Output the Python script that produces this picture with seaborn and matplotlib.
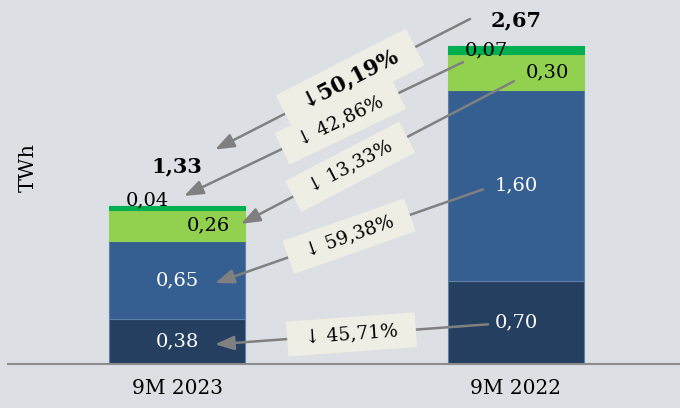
import matplotlib
matplotlib.use("Agg")
import matplotlib.pyplot as plt
import seaborn as sns
import numpy as np
import math

# ---------------- data ----------------
categories = ["9M 2023", "9M 2022"]
seg_navy = [0.38, 0.70]
seg_blue = [0.65, 1.60]
seg_lightgreen = [0.26, 0.30]
seg_green = [0.04, 0.07]
totals = [1.33, 2.67]

layers = [seg_navy, seg_blue, seg_lightgreen, seg_green]
colors = ["#253f60", "#365f91", "#92d050", "#00b050"]
edge_colors = ["#5d7fa8", "#5d7fa8", "#92d050", "#00b050"]
text_colors = ["white", "white", "black", "black"]

# ---------------- style ----------------
sns.set_style("white")
plt.rcParams['font.family'] = ['DejaVu Serif', 'DejaVu Sans']
plt.rcParams['text.color'] = 'black'
plt.rcParams['xtick.color'] = 'black'
plt.rcParams['axes.labelcolor'] = 'black'

W, H = 680, 408
bg = "#dce0e4"
fig = plt.figure(figsize=(W / 100, H / 100), dpi=100)
fig.patch.set_facecolor(bg)
ax = fig.add_axes([7.5 / W, 44 / H, 678 / W, 364 / H])
ax.set_facecolor(bg)

bottom = np.zeros(len(categories))
bottoms = []
for vals, col, ec in zip(layers, colors, edge_colors):
    bottoms.append(bottom.copy())
    sns.barplot(x=categories, y=vals, bottom=bottom.copy(), color=col, width=0.4,
                saturation=1, errorbar=None, edgecolor=ec, linewidth=0.8, ax=ax)
    bottom = bottom + np.array(vals)

ax.set_xlim(-0.5, 1.5)
ax.set_ylim(0, 3.056)
for s in ["left", "right", "top"]:
    ax.spines[s].set_visible(False)
ax.spines["bottom"].set_color("#8c8c8c")
ax.spines["bottom"].set_linewidth(1.5)
ax.set_yticks([])
ax.set_xticks(range(len(categories)))
ax.set_xticklabels(categories, fontsize=14.5, color="black")
ax.set_xticks([-0.5, 0.5, 1.5], minor=True)
ax.tick_params(axis="x", which="major", length=0, pad=11, labelcolor="black")
ax.tick_params(axis="x", which="minor", length=5, width=1.5, color="#8c8c8c", direction="out")
ax.set_xlabel("")
ax.set_ylabel("")

fig.text(28 / W, 1 - 168 / H, "TWh", rotation=90, ha="center", va="center",
         fontsize=15, color="black")

# ---------------- value labels ----------------
label_dx = [0, 0, 31, -30]          # px offsets per layer
label_dy = [[0, 0], [0, 0], [0, 0], [8, 0]]
label_pos = {}   # display pixel positions
for i, vals in enumerate(layers):
    for j, v in enumerate(vals):
        cy = bottoms[i][j] + v / 2
        base = ax.transData.transform((j, cy))
        p = (base[0] + label_dx[i], base[1] + label_dy[i][j])
        label_pos[(i, j)] = p
        ax.annotate(f"{v:.2f}".replace(".", ","), xy=p, xycoords="figure pixels",
                    ha="center", va="center", fontsize=14, color=text_colors[i], zorder=5)

total_dy = [39, 26]
for j, t in enumerate(totals):
    base = ax.transData.transform((j, t))
    p = (base[0], base[1] + total_dy[j])
    label_pos[("t", j)] = p
    ax.annotate(f"{t:.2f}".replace(".", ","), xy=p, xycoords="figure pixels",
                ha="center", va="center", fontsize=15, fontweight="bold",
                color="black", zorder=5)

# ---------------- change arrows ----------------
keys = ["t", 3, 2, 1, 0]
tail_off = [(-46, 1), (-23, -12), (-33, -9), (-33, -4), (-28, -2)]
head_off = [(38, 17), (37, 4), (33, 2), (38, -3), (38, -3)]
box_t = [0.47, 0.44, 0.60, 0.50, 0.50]

def series_vals(k):
    return totals if k == "t" else layers[k]

for k, to, ho, bt in zip(keys, tail_off, head_off, box_t):
    a = label_pos[(k, 1)]
    b = label_pos[(k, 0)]
    tail = (a[0] + to[0], a[1] + to[1])
    tip = (b[0] + ho[0], b[1] + ho[1])
    ax.annotate("", xy=tip, xycoords="figure pixels", xytext=tail, textcoords="figure pixels",
                arrowprops=dict(arrowstyle="-|>,head_length=1.15,head_width=0.43",
                                mutation_scale=10, color="#808080", lw=1.8,
                                shrinkA=0, shrinkB=0), zorder=6)
    vals = series_vals(k)
    pct = (vals[1] - vals[0]) / vals[1] * 100
    ptxt = f"{pct:.2f}".replace(".", ",") + "%"
    ang = math.degrees(math.atan2(tail[1] - tip[1], tail[0] - tip[0]))
    bx = tail[0] + (tip[0] - tail[0]) * bt
    by = tail[1] + (tip[1] - tail[1]) * bt
    if k == "t":
        ax.annotate("\u2002\u2193" + ptxt + "\u2002", xy=(bx, by), xycoords="figure pixels",
                    rotation=ang, rotation_mode="anchor", ha="center", va="center",
                    fontsize=15.5, fontweight="bold", color="black", zorder=7,
                    bbox=dict(boxstyle="square,pad=0.45", fc="#efeee5", ec="none"))
    else:
        ax.annotate("\u2002\u2193 " + ptxt + "\u2002", xy=(bx, by), xycoords="figure pixels",
                    rotation=ang, rotation_mode="anchor", ha="center", va="center",
                    fontsize=13.5, color="black", zorder=7,
                    bbox=dict(boxstyle="square,pad=0.45", fc="#efeee5", ec="none"))

fig.savefig("out.png", dpi=100, facecolor=bg)
